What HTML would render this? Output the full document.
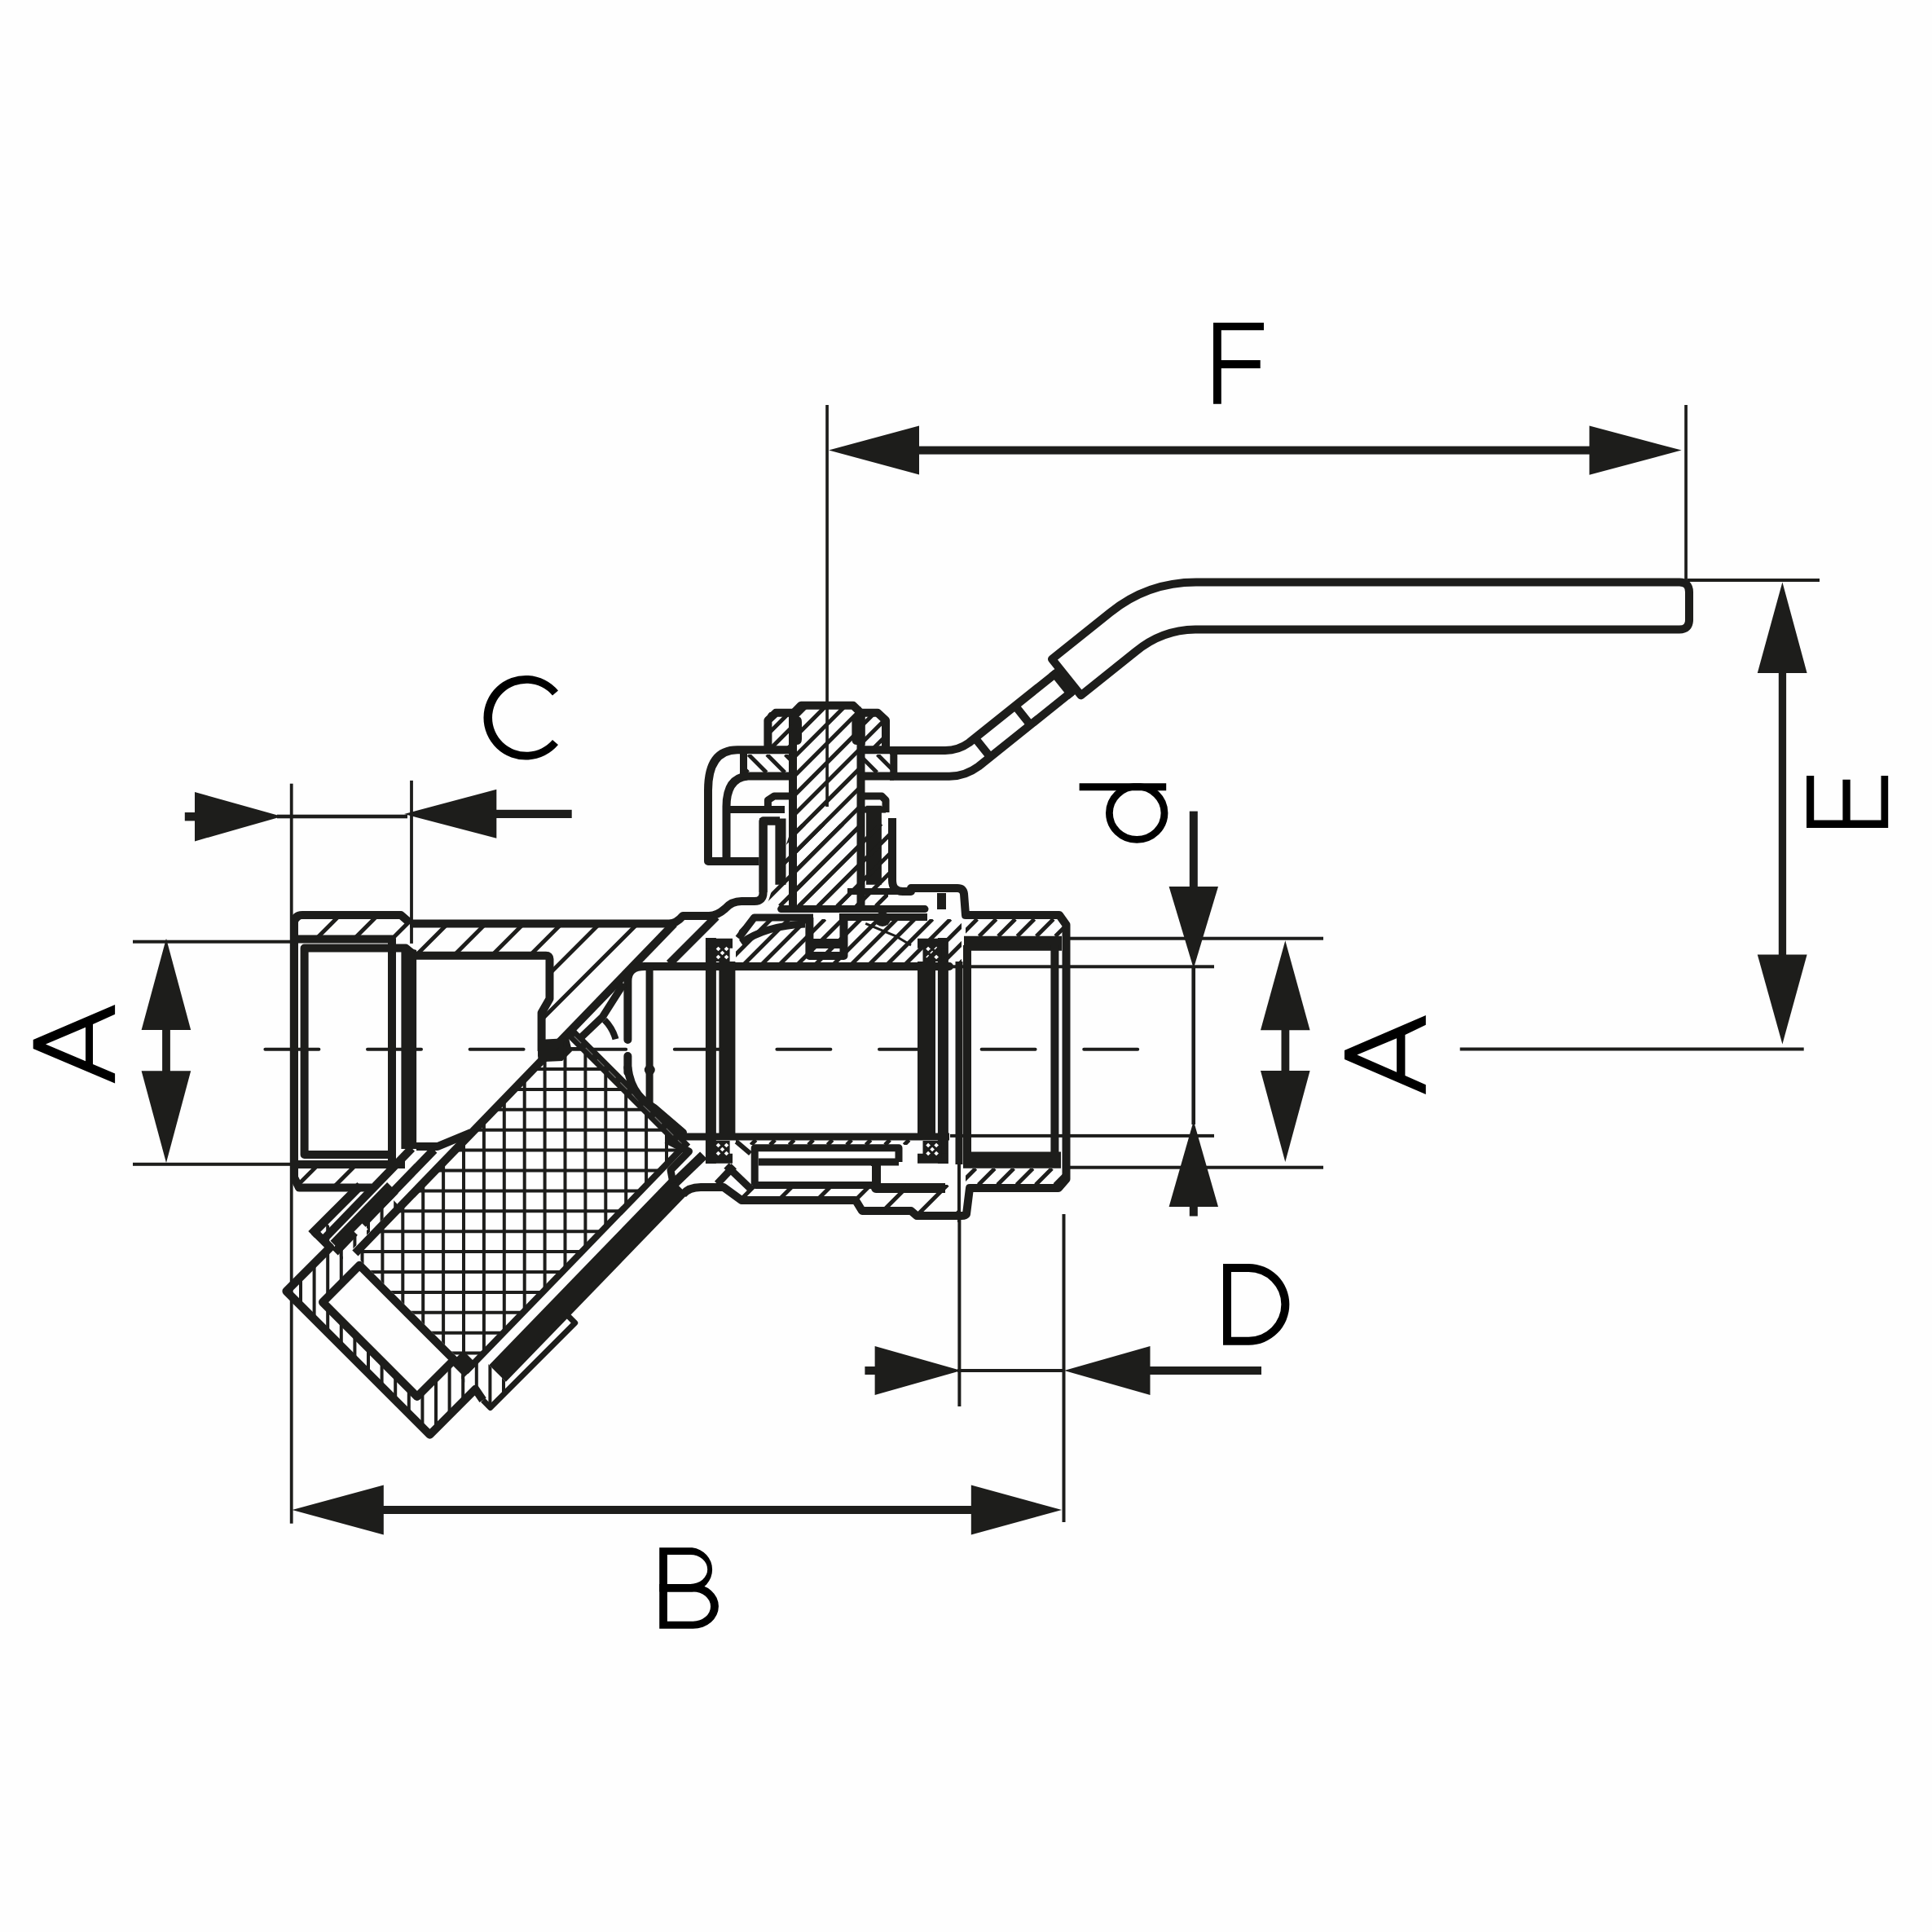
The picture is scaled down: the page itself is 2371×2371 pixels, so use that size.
<!DOCTYPE html>
<html><head><meta charset="utf-8"><style>
html,body{margin:0;padding:0;background:#fefefe;width:2371px;height:2371px;overflow:hidden}
svg{display:block}
</style></head><body>
<svg width="2371" height="2371" viewBox="0 0 2371 2371">
<rect x="0" y="0" width="2371" height="2371" fill="#fefefe"/>
<!-- ===== DIMENSIONS ===== -->
<g id="dims" fill="#1d1d1b" stroke="none">
  <!-- F -->
  <rect x="1013.2" y="497" width="3.7" height="493"/>
  <rect x="2067.2" y="497" width="3.7" height="218"/>
  <rect x="1120" y="547.6" width="840" height="10"/>
  <polygon points="1017,552.6 1128,522.5 1128,582.6"/>
  <polygon points="2063.6,552.6 1950.5,522.4 1950.5,582.7"/>
  <!-- E -->
  <rect x="2071" y="710" width="162" height="4"/>
  <rect x="2182.8" y="820" width="9.3" height="360"/>
  <polygon points="2187.4,714.4 2156.8,826 2217.6,826"/>
  <polygon points="2187.4,1281.4 2156.8,1171.6 2217.6,1171.6"/>
  <rect x="1791.7" y="1285.5" width="422" height="4"/>
  <!-- A left -->
  <rect x="163" y="1153.7" width="194" height="4"/>
  <rect x="163" y="1426.8" width="194" height="4"/>
  <rect x="199.1" y="1260" width="9.8" height="60"/>
  <polygon points="204,1151.8 173.6,1264 234.2,1264"/>
  <polygon points="204,1427 173.6,1314.3 234.2,1314.3"/>
  <!-- A right -->
  <rect x="1311" y="1149.7" width="313" height="4"/>
  <rect x="1311" y="1430.7" width="313" height="4"/>
  <rect x="1166" y="1184.3" width="324" height="4"/>
  <rect x="1166" y="1391.9" width="324" height="4"/>
  <rect x="1572.5" y="1260" width="9.8" height="60"/>
  <polygon points="1577.3,1154.2 1547,1264.2 1607.6,1264.2"/>
  <polygon points="1577.3,1426 1547,1314 1607.6,1314"/>
  <!-- d -->
  <rect x="1459.8" y="995.6" width="10" height="95"/>
  <polygon points="1464.8,1188.4 1434.6,1088 1495,1088"/>
  <rect x="1462.4" y="1185" width="4.6" height="195"/>
  <polygon points="1464.8,1375.5 1434.6,1481 1495,1481"/>
  <rect x="1459.8" y="1478" width="10" height="14.5"/>
  <!-- C -->
  <rect x="355.8" y="961.7" width="3.8" height="908"/>
  <rect x="503.1" y="957.9" width="3.8" height="200"/>
  <rect x="340" y="999.7" width="160" height="4.6"/>
  <polygon points="346,1002 239,972 239,1032.4"/>
  <rect x="226.8" y="997" width="14" height="10.4"/>
  <polygon points="496,999 609.3,968.7 609.3,1028.8"/>
  <rect x="605" y="993.8" width="96.7" height="10.2"/>
  <!-- D -->
  <rect x="1175.4" y="1490" width="4" height="236"/>
  <rect x="1303.5" y="1490" width="4" height="378"/>
  <rect x="1175" y="1680" width="132" height="4"/>
  <polygon points="1179.5,1682 1073.6,1652 1073.6,1712"/>
  <rect x="1061.4" y="1677" width="14" height="10"/>
  <polygon points="1306,1682 1411.5,1652 1411.5,1712"/>
  <rect x="1408" y="1677" width="140" height="10"/>
  <!-- B -->
  <rect x="465" y="1848" width="732" height="10"/>
  <polygon points="358.5,1853 470.8,1822.5 470.8,1883.5"/>
  <polygon points="1303,1853 1191.8,1822.5 1191.8,1883.5"/>
  <!-- centre line -->
  <path d="M325.4 1287.8h66M451 1287.8h66M576.6 1287.8h66M702.2 1287.8h66M827.8 1287.8h66M953.4 1287.8h66M1079 1287.8h66M1204.6 1287.8h66M1330.2 1287.8h66" stroke="#1d1d1b" stroke-width="4" stroke-linecap="round" fill="none"/>
</g>
<!-- ===== LETTERS ===== -->
<g id="letters" fill="#000" stroke="none">
  <!-- F -->
  <path d="M1489 396H1551V405.3H1498.8V442H1546.7V452H1498.8V495.8H1489Z"/>
  <!-- E rotated -->
  <path d="M2217 1016V951.9H2226.2V1006.6H2261.4V956.7H2270.7V1006.6H2308.5V951.9H2317.2V1016Z"/>
  <!-- A left -->
  <path d="M141.1 1233L40.7 1276V1287L141.1 1329.4V1317.6L114 1306V1257L141.1 1244.8ZM105 1260.8V1302.3L56 1281.5Z" fill-rule="evenodd"/>
  <!-- A right -->
  <path d="M1749.8 1246L1650 1289V1300L1749.8 1343V1331.2L1724.4 1320V1270L1749.8 1257.8ZM1714 1274.2V1315.7L1665.4 1294.5Z" fill-rule="evenodd"/>
  <!-- C -->
  <path d="M685 847.5A51.8 51.8 0 1 0 685 914L678 908A42 42 0 1 1 678 853.5Z"/>
  <!-- d rotated -->
  <path d="M1324.6 961.2H1431.2V970.3H1324.6Z"/>
  <clipPath id="dclip"><rect x="1300" y="961.2" width="200" height="100"/></clipPath><ellipse cx="1395.2" cy="997.8" rx="33.8" ry="32.6" fill="none" stroke="#000" stroke-width="8.8" clip-path="url(#dclip)"/>
  <!-- D -->
  <path d="M1501 1551H1532.5A49.85 49.85 0 0 1 1532.5 1650.7H1501ZM1511 1561V1640.7H1532.5A39.85 39.85 0 0 0 1532.5 1561Z" fill-rule="evenodd"/>
  <!-- B -->
  <path d="M809.2 1899.2H849.5A28 27.3 0 0 1 849.5 1953.4H809.2ZM818.9 1907.9V1943.9H847.2A21 18 0 0 0 847.2 1907.9Z" fill-rule="evenodd"/>
  <path d="M809.2 1943.9H850.6A31.3 27.45 0 0 1 850.6 1998.8H809.2ZM818.9 1953.4V1989.7H850.6A21.5 18.15 0 0 0 850.6 1953.4Z" fill-rule="evenodd"/>
</g>
<!-- ===== HANDLE ===== -->
<g id="handle" fill="none" stroke="#1d1d1b" stroke-width="10" stroke-linejoin="round">
  <path d="M1092 921L1160 921Q1176 921 1189.2 911.5L1296.3 825.8"/>
  <path d="M1092 952.8L1165 952.8Q1184.3 952.8 1201 940.5L1315.1 849.2"/>
  <path d="M1196.5 905.7L1215.3 929.1M1245.8 866.2L1264.5 889.7"/>
  <polygon points="1287.5,826.5 1298.2,817.9 1323.2,849.1 1312.5,857.7" fill="#1d1d1b" stroke="none"/>
  <path d="M1291 808.9L1362.2 751.9Q1408.3 714.5 1468 714.5L2061 714.5Q2073 714.5 2073 726.5L2073 760.5Q2073 772.5 2061 772.5L1467 772.5Q1425.6 773 1393.4 799.9L1326.6 853.4Z"/>
</g>
<g id="body" fill="none" stroke="#1d1d1b" stroke-width="10" stroke-linejoin="round">
<defs><clipPath id="hc1"><polygon points="361,1123 492,1123 503,1132 503,1152 361,1152"/></clipPath><clipPath id="hc2"><polygon points="361,1429 500,1429 470,1457 361,1457"/></clipPath><clipPath id="hc3"><polygon points="503,1133.5 827,1133.5 668,1292 664.6,1243 674.5,1225.7 674.5,1172.7 509,1172.7"/></clipPath><clipPath id="mg"><polygon points="437.5,1542 699.1,1271.8 834.6,1407.4 573,1677.5"/></clipPath><clipPath id="hc5"><polygon points="383.3,1509 396,1496.2 432.7,1533 420,1545.7"/></clipPath><clipPath id="hc6"><polygon points="425.7,1525.9 480.8,1470.8 487.9,1477.9 432.7,1533"/></clipPath><clipPath id="hc7"><polygon points="351.4,1584.6 407.3,1528.8 583.4,1704.8 527.5,1760.7"/></clipPath><clipPath id="hc8"><polygon points="562.1,1687.9 587.6,1662.4 627.2,1702 601.7,1727.5"/></clipPath><clipPath id="hc9"><polygon points="973,866 1056.5,866 1056.5,1115 973,1115"/></clipPath><clipPath id="hc10"><polygon points="942.4,874 973,874 973,921 942.4,921"/></clipPath><clipPath id="hc11"><polygon points="1056.5,874 1087,874 1087,921 1056.5,921"/></clipPath><clipPath id="hc12"><polygon points="912.5,926 973,926 973,948 912.5,948"/></clipPath><clipPath id="hc13"><polygon points="1056.5,926 1097,926 1097,948 1056.5,948"/></clipPath><clipPath id="hc14"><polygon points="973,1011 1090,1011 1090,1112 941,1112"/></clipPath><clipPath id="hc15"><polygon points="910,1128 1180,1128 1180,1186 903,1186 903,1160"/></clipPath><clipPath id="hc16"><polygon points="903,1399 1127,1399 1127,1405 903,1405"/></clipPath><clipPath id="hc17"><polygon points="880,1454 1175,1454 1175,1490 1055,1488 1050,1473 907,1473"/></clipPath><clipPath id="hc18"><polygon points="1185,1128 1304,1128 1304,1149 1185,1149"/></clipPath><clipPath id="hc19"><polygon points="1185,1434 1304,1434 1304,1454 1185,1454"/></clipPath></defs>
<path d="M341.6 1152L370.6 1123M388.2 1152L417.2 1123M434.8 1152L463.8 1123M481.4 1152L510.4 1123" stroke-width="5" fill="none" clip-path="url(#hc1)" stroke-linecap="butt"/>
<path d="M362.8 1457L390.8 1429M409.4 1457L437.4 1429M456 1457L484 1429" stroke-width="5" fill="none" clip-path="url(#hc2)" stroke-linecap="butt"/>
<path d="M503 1132.5L492 1123L371 1123Q361 1123 361 1133L361 1445L367 1457.5L456 1457.5" stroke-width="10" fill="none" />
<path d="M361 1152.5H481V1429M361 1429H497" stroke-width="10" fill="none" />
<path d="M509 1172.7L498 1163.6L373.6 1163.6V1417H481" stroke-width="10" fill="none" />
<polygon points="492.4,1160 511.1,1166 511.1,1410 492.4,1410" fill="#1d1d1b" stroke="none"/>
<path d="M391 1292L549.5 1133.5M437.6 1292L596.1 1133.5M484.2 1292L642.7 1133.5M530.8 1292L689.3 1133.5M577.4 1292L735.9 1133.5M624 1292L782.5 1133.5M670.6 1292L829.1 1133.5M717.2 1292L875.7 1133.5M763.8 1292L922.3 1133.5M810.4 1292L968.9 1133.5" stroke-width="5" fill="none" clip-path="url(#hc3)" stroke-linecap="butt"/>
<path d="M503 1133.5H821Q830 1133.5 838 1124H870Q880 1124 890 1115Q898 1106 910 1106H926Q936.6 1106 936.6 1095V1007.5H957" stroke-width="10" fill="none" />
<path d="M509 1172.7H670Q674.5 1172.7 674.5 1177V1225.7L664.6 1243V1290" stroke-width="10" fill="none" />
<path d="M511 1407H537L578 1390" stroke-width="10" fill="none" />
<path d="M827.3 1133.5L435.9 1538" stroke-width="10" fill="none" />
<path d="M660 1276L698 1274L702 1290L690 1302L668 1303Q660 1303 660 1296Z" fill="#1d1d1b" stroke="none"/>
<path d="M879 1125L821.5 1182.5" stroke-width="10" fill="none" />
<path d="M419.6 1250V1700M444.5 1250V1700M469.4 1250V1700M494.3 1250V1700M519.2 1250V1700M544.1 1250V1700M569 1250V1700M593.9 1250V1700M618.8 1250V1700M643.7 1250V1700M668.6 1250V1700M693.5 1250V1700M718.4 1250V1700M743.3 1250V1700M768.2 1250V1700M793.1 1250V1700M818 1250V1700M842.9 1250V1700M400 1212.4H860M400 1237.3H860M400 1262.2H860M400 1287.1H860M400 1312H860M400 1336.9H860M400 1361.8H860M400 1386.7H860M400 1411.6H860M400 1436.5H860M400 1461.4H860M400 1486.3H860M400 1511.2H860M400 1536.1H860M400 1561H860M400 1585.9H860M400 1610.8H860M400 1635.7H860M400 1660.6H860M400 1685.5H860M400 1710.4H860" stroke-width="4" fill="none" clip-path="url(#mg)"/>
<path d="M571.7 1683.2 L839.5 1406.6" stroke-width="8" fill="none" />
<polygon points="694.2,1271.2 703.9,1261.1 847.2,1404.4 837.5,1414.5" fill="#1d1d1b" stroke="none"/>
<path d="M704.7 1271.8 L836.7 1403.8" stroke="#6a6a68" stroke-width="1.2" stroke-dasharray="12 8" fill="none"/>
<polygon points="600.3,1675.2 823,1445.3 843.5,1465.8 620.9,1695.7" fill="#1d1d1b" stroke="none"/>
<polygon points="821,1450.3 859.1,1413.5 867.6,1422 829.4,1458.8" fill="#1d1d1b" stroke="none"/>
<path d="M696.5 1614.3 L705.7 1623.5 L601.7 1727.5 L592.6 1718.3" stroke-width="7" fill="none" />
<path d="M385.6 1496.2V1545.7M402.2 1496.2V1545.7M418.8 1496.2V1545.7" stroke-width="4" fill="none" clip-path="url(#hc5)" stroke-linecap="butt"/>
<path d="M435.4 1470.8V1533M452 1470.8V1533M468.6 1470.8V1533M485.2 1470.8V1533" stroke-width="4" fill="none" clip-path="url(#hc6)" stroke-linecap="butt"/>
<polygon points="378.3,1511.1 438.4,1451 446.2,1458.8 386.1,1518.9" fill="#1d1d1b" stroke="none"/>
<path d="M385.4 1511.1 L405.2 1530.9 L351.4 1584.6 L527.5 1760.7 L583.4 1704.8 L592.6 1718.3" stroke-width="10" fill="none" />
<polygon points="392.7,1518.4 501.9,1405.6 509,1412.7 399.7,1525.5" fill="#1d1d1b" stroke="none"/>
<polygon points="407.2,1533 529,1407.2 536.4,1414.7 414.7,1540.4" fill="#1d1d1b" stroke="none"/>
<polygon points="405.5,1522.8 475.1,1450.9 488.6,1464.4 419,1536.2" fill="#1d1d1b" stroke="none"/>
<rect x="438" y="1503" width="10" height="14" fill="#fefefe" stroke="none" transform="rotate(45 443 1510)"/>
<path d="M352.4 1528.8V1760.7M369 1528.8V1760.7M385.6 1528.8V1760.7M402.2 1528.8V1760.7M418.8 1528.8V1760.7M435.4 1528.8V1760.7M452 1528.8V1760.7M468.6 1528.8V1760.7M485.2 1528.8V1760.7M501.8 1528.8V1760.7M518.4 1528.8V1760.7M535 1528.8V1760.7M551.6 1528.8V1760.7M568.2 1528.8V1760.7" stroke-width="4" fill="none" clip-path="url(#hc7)" stroke-linecap="butt"/>
<path d="M568.2 1662.4V1727.5M584.8 1662.4V1727.5M601.4 1662.4V1727.5M618 1662.4V1727.5" stroke-width="4" fill="none" clip-path="url(#hc8)" stroke-linecap="butt"/>
<polygon points="553,1673 568.5,1657.5 585.5,1674.4 569.9,1690" fill="#1d1d1b" stroke="none"/>
<path d="M396 1598.1 L441.2 1552.8 L557.2 1668.8 L511.9 1714 Z" stroke-width="10" fill="#fefefe" />
<path d="M1165 1186H791Q770.4 1186 770.4 1204V1276M770.4 1296V1316" stroke-width="10" fill="none" stroke-linecap="round"/>
<path d="M797.1 1186V1355" stroke-width="9" fill="none" />
<path d="M710.8 1275.3L739.4 1248L765.5 1207" stroke-width="9" fill="none" />
<path d="M741.9 1251.7Q752 1262 755.5 1275.3" stroke-width="8" fill="none" />
<path d="M770.4 1310C774 1340 790 1352 803 1360L838 1390" stroke-width="10" fill="none" stroke-linecap="round"/>
<circle cx="797.3" cy="1313" r="6.5" fill="#1d1d1b" stroke="none"/>
<path d="M834 1395H1165" stroke-width="9" fill="none" />
<path d="M872.4 1151V1428" stroke-width="13" fill="none" />
<path d="M892.4 1180V1397" stroke-width="20" fill="none" />
<path d="M866 1157.7H899M866 1421.8H899" stroke-width="12" fill="none" />
<path d="M1137 1180V1397" stroke-width="22" fill="none" />
<path d="M1157.4 1151V1428" stroke-width="13" fill="none" />
<path d="M1126 1157.7H1163M1126 1421.8H1163" stroke-width="12" fill="none" />
<rect x="877.5" y="1159" width="18.1" height="21" fill="#1d1d1b" stroke="none"/>
<rect x="879.5" y="1162.5" width="4" height="4" fill="#fefefe" stroke="none" transform="rotate(45 881.5 1164.5)"/>
<rect x="889.5" y="1162.5" width="4" height="4" fill="#fefefe" stroke="none" transform="rotate(45 891.5 1164.5)"/>
<rect x="879.5" y="1172.5" width="4" height="4" fill="#fefefe" stroke="none" transform="rotate(45 881.5 1174.5)"/>
<rect x="889.5" y="1172.5" width="4" height="4" fill="#fefefe" stroke="none" transform="rotate(45 891.5 1174.5)"/>
<rect x="884.5" y="1167.5" width="4" height="4" fill="#fefefe" stroke="none" transform="rotate(45 886.5 1169.5)"/>
<rect x="1132.5" y="1159" width="23.2" height="21" fill="#1d1d1b" stroke="none"/>
<rect x="1137.1" y="1162.5" width="4" height="4" fill="#fefefe" stroke="none" transform="rotate(45 1139.1 1164.5)"/>
<rect x="1147.1" y="1162.5" width="4" height="4" fill="#fefefe" stroke="none" transform="rotate(45 1149.1 1164.5)"/>
<rect x="1137.1" y="1172.5" width="4" height="4" fill="#fefefe" stroke="none" transform="rotate(45 1139.1 1174.5)"/>
<rect x="1147.1" y="1172.5" width="4" height="4" fill="#fefefe" stroke="none" transform="rotate(45 1149.1 1174.5)"/>
<rect x="1142.1" y="1167.5" width="4" height="4" fill="#fefefe" stroke="none" transform="rotate(45 1144.1 1169.5)"/>
<rect x="877.5" y="1400" width="18.1" height="21" fill="#1d1d1b" stroke="none"/>
<rect x="879.5" y="1403.5" width="4" height="4" fill="#fefefe" stroke="none" transform="rotate(45 881.5 1405.5)"/>
<rect x="889.5" y="1403.5" width="4" height="4" fill="#fefefe" stroke="none" transform="rotate(45 891.5 1405.5)"/>
<rect x="879.5" y="1413.5" width="4" height="4" fill="#fefefe" stroke="none" transform="rotate(45 881.5 1415.5)"/>
<rect x="889.5" y="1413.5" width="4" height="4" fill="#fefefe" stroke="none" transform="rotate(45 891.5 1415.5)"/>
<rect x="884.5" y="1408.5" width="4" height="4" fill="#fefefe" stroke="none" transform="rotate(45 886.5 1410.5)"/>
<rect x="1132.5" y="1400" width="23.2" height="21" fill="#1d1d1b" stroke="none"/>
<rect x="1137.1" y="1403.5" width="4" height="4" fill="#fefefe" stroke="none" transform="rotate(45 1139.1 1405.5)"/>
<rect x="1147.1" y="1403.5" width="4" height="4" fill="#fefefe" stroke="none" transform="rotate(45 1149.1 1405.5)"/>
<rect x="1137.1" y="1413.5" width="4" height="4" fill="#fefefe" stroke="none" transform="rotate(45 1139.1 1415.5)"/>
<rect x="1147.1" y="1413.5" width="4" height="4" fill="#fefefe" stroke="none" transform="rotate(45 1149.1 1415.5)"/>
<rect x="1142.1" y="1408.5" width="4" height="4" fill="#fefefe" stroke="none" transform="rotate(45 1144.1 1410.5)"/>
<path d="M741.5 1115L990.5 866M765.1 1115L1014.1 866M788.7 1115L1037.7 866M812.3 1115L1061.3 866M835.9 1115L1084.9 866M859.5 1115L1108.5 866M883.1 1115L1132.1 866M906.7 1115L1155.7 866M930.3 1115L1179.3 866M953.9 1115L1202.9 866M977.5 1115L1226.5 866M1001.1 1115L1250.1 866M1024.7 1115L1273.7 866M1048.3 1115L1297.3 866" stroke-width="5" fill="none" clip-path="url(#hc9)" stroke-linecap="butt"/>
<path d="M973 1115V876L983 865.7H1047L1056.5 875V1115" stroke-width="10" fill="none" />
<path d="M968 879H978Q984 879 984 886V907Q984 914 978 914H968Z M1061.6 879H1051Q1045.4 879 1045.4 886V907Q1045.4 914 1051 914H1061.6Z" fill="#1d1d1b" stroke="none"/>
<path d="M901.3 921L948.3 874M922.3 921L969.3 874M943.3 921L990.3 874M964.3 921L1011.3 874" stroke-width="5" fill="none" clip-path="url(#hc10)" stroke-linecap="butt"/>
<path d="M1027.3 921L1074.3 874M1048.3 921L1095.3 874M1069.3 921L1116.3 874" stroke-width="5" fill="none" clip-path="url(#hc11)" stroke-linecap="butt"/>
<path d="M942.4 921V884L952 874.8H973M1056.5 874.8H1077L1087 884V921" stroke-width="10" fill="none" />
<path d="M896 926L918 948M918.6 926L940.6 948M941.2 926L963.2 948M963.8 926L985.8 948" stroke-width="5" fill="none" clip-path="url(#hc12)" stroke-linecap="butt"/>
<path d="M1054.2 926L1076.2 948M1076.8 926L1098.8 948" stroke-width="5" fill="none" clip-path="url(#hc13)" stroke-linecap="butt"/>
<path d="M912.5 921V952.5M1096.8 921V952.5" stroke-width="9" fill="none" />
<path d="M973 920.3H905Q869 920.3 869 970V1057H931.5" stroke-width="10" fill="none" />
<path d="M1056.5 920.3H1092" stroke-width="10" fill="none" />
<path d="M917 952.5Q891.5 955 891.5 990V1057" stroke-width="10" fill="none" />
<path d="M896 993.6H963" stroke-width="9" fill="none" />
<path d="M912 952.5H973M1056.5 952.5H1097" stroke-width="10" fill="none" />
<path d="M942.4 997V982L950 977H973M1056.5 977H1082L1087 982V997" stroke-width="9" fill="none" />
<path d="M1056.5 993.6H1087" stroke-width="8" fill="none" />
<rect x="1150" y="1096" width="11" height="20" fill="#1d1d1b" stroke="none"/>
<path d="M936.6 1095V1007.5H957M1095 1004V1080Q1095 1094 1108 1094H1118V1090H1175Q1182 1090 1183 1097L1185 1123H1300L1308.5 1135V1447L1299 1458H1190L1186 1490Q1185 1492 1180 1492H1125L1118 1486H1058L1050 1473H910L888 1457H860Q845 1457 838 1466" stroke-width="10" fill="none" />
<polygon points="951.4,1004.6 964.5,1004.6 964.5,1085.8 951.4,1085.8" fill="#1d1d1b" stroke="none"/>
<polygon points="1063,988.7 1081.9,988.7 1081.9,1085.8 1063,1085.8" fill="#1d1d1b" stroke="none"/>
<path d="M936.6 1004V1095" stroke-width="9" fill="none" />
<path d="M862.5 1112L963.5 1011M886.1 1112L987.1 1011M909.7 1112L1010.7 1011M933.3 1112L1034.3 1011M956.9 1112L1057.9 1011M980.5 1112L1081.5 1011M1004.1 1112L1105.1 1011M1027.7 1112L1128.7 1011M1051.3 1112L1152.3 1011M1074.9 1112L1175.9 1011" stroke-width="5" fill="none" clip-path="url(#hc14)" stroke-linecap="butt"/>
<path d="M1040 1094H1121" stroke-width="8" fill="none" />
<path d="M866.4 1186L924.4 1128M888.4 1186L946.4 1128M910.4 1186L968.4 1128M932.4 1186L990.4 1128M954.4 1186L1012.4 1128M976.4 1186L1034.4 1128M998.4 1186L1056.4 1128M1020.4 1186L1078.4 1128M1042.4 1186L1100.4 1128M1064.4 1186L1122.4 1128M1086.4 1186L1144.4 1128M1108.4 1186L1166.4 1128M1130.4 1186L1188.4 1128M1152.4 1186L1210.4 1128M1174.4 1186L1232.4 1128" stroke-width="5" fill="none" clip-path="url(#hc15)" stroke-linecap="butt"/>
<path d="M958.6 1115.6H1135" stroke-width="9" fill="none" stroke-linecap="round"/>
<path d="M906.2 1151.5L925.6 1126H998M1030 1125.5H1138" stroke-width="9" fill="none" />
<path d="M909.6 1157.2Q940 1136 988 1134" stroke-width="9" fill="none" />
<path d="M993.4 1126V1173H1035.5V1126" stroke-width="10" fill="none" />
<rect x="998" y="1152" width="33" height="12" fill="#1d1d1b" stroke="none"/>
<path d="M1062.2 1133.3L1100 1149.2L1118 1160" stroke-width="3" fill="none" />
<ellipse cx="1083" cy="1128" rx="10" ry="9" fill="#1d1d1b" stroke="none"/>
<path d="M898.1 1405L904.1 1399M921.6 1405L927.6 1399M945.1 1405L951.1 1399M968.6 1405L974.6 1399M992.1 1405L998.1 1399M1015.6 1405L1021.6 1399M1039.1 1405L1045.1 1399M1062.6 1405L1068.6 1399M1086.1 1405L1092.1 1399M1109.6 1405L1115.6 1399" stroke-width="5" fill="none" clip-path="url(#hc16)" stroke-linecap="butt"/>
<path d="M926.2 1454.4V1408.7H1103V1425.9" stroke-width="9" fill="none" />
<path d="M931 1425.9H1103" stroke-width="9" fill="none" />
<path d="M1075 1425.9V1458H1160" stroke-width="12" fill="none" />
<path d="M844.2 1490L880.2 1454M891.3 1490L927.3 1454M938.4 1490L974.4 1454M985.5 1490L1021.5 1454M1032.6 1490L1068.6 1454M1079.7 1490L1115.7 1454M1126.8 1490L1162.8 1454M1173.9 1490L1209.9 1454" stroke-width="5" fill="none" clip-path="url(#hc17)" stroke-linecap="butt"/>
<path d="M926.2 1454.4H1075" stroke-width="9" fill="none" />
<path d="M891.5 1430.6L922.5 1460.2" stroke-width="9" fill="none" />
<path d="M903.6 1401L921 1415.8" stroke-width="6" fill="none" />
<path d="M817.6 1399L845.5 1413L823 1436L826 1452" stroke-width="9" fill="none" />
<path d="M880.2 1452.8L900.7 1431.1" stroke-width="9" fill="none" />
<rect x="931" y="1431" width="139" height="19" fill="#fefefe" stroke="none"/>
<path d="M1178.2 1149L1199.2 1128M1201.6 1149L1222.6 1128M1225 1149L1246 1128M1248.4 1149L1269.4 1128M1271.8 1149L1292.8 1128M1295.2 1149L1316.2 1128" stroke-width="5" fill="none" clip-path="url(#hc18)" stroke-linecap="butt"/>
<path d="M1177.4 1454L1197.4 1434M1200.8 1454L1220.8 1434M1224.2 1454L1244.2 1434M1247.6 1454L1267.6 1434M1271 1454L1291 1434M1294.4 1454L1314.4 1434" stroke-width="5" fill="none" clip-path="url(#hc19)" stroke-linecap="butt"/>
<polygon points="1183,1148.7 1303,1148.7 1303,1166.8 1183,1166.8" fill="#1d1d1b" stroke="none"/>
<polygon points="1182,1413.5 1302,1413.5 1302,1433.8 1182,1433.8" fill="#1d1d1b" stroke="none"/>
<path d="M1187 1160V1420M1294.4 1160V1420" stroke-width="10" fill="none" />
<path d="M1177 1180V1429" stroke-width="9" fill="none" />
<path d="M1177 1429V1500" stroke-width="4" fill="none" />
</g>
</svg>
</body></html>
